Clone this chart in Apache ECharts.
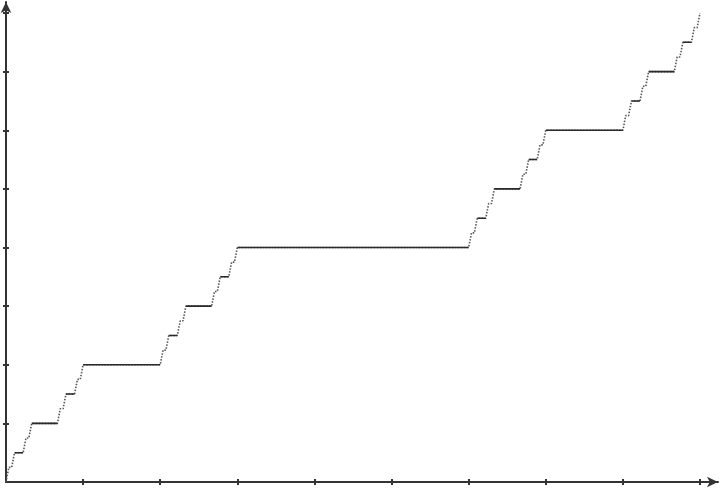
<!DOCTYPE html>
<html>
<head>
<meta charset="utf-8">
<script src="https://cdn.jsdelivr.net/npm/echarts@6/dist/echarts.min.js"></script>
<style>html,body{margin:0;padding:0;background:#fff;}#c{width:720px;height:488px;}</style>
</head>
<body>
<div id="c"></div>
<script>
// Staircase plateaus (x in 1/243 units, y in 1/32 units)
const plateauStart = [1,3,7,9,19,21,25,27,55,57,61,63,73,75,79,81,163,165,169,171,181,183,187,189,217,219,223,225,235,237,241];
const plateauEnd   = [2,6,8,18,20,24,26,54,56,60,62,72,74,78,80,162,164,168,170,180,182,186,188,216,218,222,224,234,236,240,242];
const plateauLevel = [1,2,3,4,5,6,7,8,9,10,11,12,13,14,15,16,17,18,19,20,21,22,23,24,25,26,27,28,29,30,31];
const curveStart = [0, 0];
const curveEnd = [1, 1];
const X_UNIT = 243, Y_UNIT = 32;
// tick positions
const xTicks = [1/9, 2/9, 3/9, 4/9, 5/9, 6/9, 7/9, 8/9, 9/9];
const yTicks = [1/8, 2/8, 3/8, 4/8, 5/8, 6/8, 7/8, 8/8];

// full curve (fine, dotted-looking) and the long plateaus (solid)
const pts = [curveStart];
const solid = [];
for (let i = 0; i < plateauStart.length; i++) {
  const p0 = [plateauStart[i] / X_UNIT, plateauLevel[i] / Y_UNIT];
  const p1 = [plateauEnd[i] / X_UNIT, plateauLevel[i] / Y_UNIT];
  pts.push(p0, p1);
  if (plateauLevel[i] % 2 === 0) { solid.push(p0, p1, '-'); }
}
pts.push(curveEnd);

const AX = '#333';
const XMAX = 712 / 694, YMAX = 480 / 469;
function xA(inside, line) {
  return {
    type: 'value', min: 0, max: XMAX, position: 'bottom',
    axisLine: { show: line, onZero: false, symbol: ['none', 'arrow'], symbolSize: [8, 11], lineStyle: { color: AX, width: 2 } },
    axisTick: { show: true, inside: inside, length: 3, customValues: xTicks, lineStyle: { color: AX, width: 2 } },
    axisLabel: { show: false }, splitLine: { show: false }
  };
}
function yA(inside, line) {
  return {
    type: 'value', min: 0, max: YMAX, position: 'left',
    axisLine: { show: line, onZero: false, symbol: ['none', 'arrow'], symbolSize: [8, 11], lineStyle: { color: AX, width: 2 } },
    axisTick: { show: true, inside: inside, length: 3, customValues: yTicks, lineStyle: { color: AX, width: 2 } },
    axisLabel: { show: false }, splitLine: { show: false }
  };
}
const chart = echarts.init(document.getElementById('c'), null, { renderer: 'canvas' });
chart.setOption({
  backgroundColor: '#fff',
  animation: false,
  grid: { left: 6, right: 2, top: 2, bottom: 6, containLabel: false },
  xAxis: [xA(false, true), xA(true, false)],
  yAxis: [yA(false, true), yA(true, false)],
  series: [{
    type: 'line', data: pts, xAxisIndex: 0, yAxisIndex: 0,
    showSymbol: false, symbol: 'none',
    lineStyle: { color: '#555', width: 1.6, type: [1.5, 1.5] }
  }, {
    type: 'line', data: solid, xAxisIndex: 0, yAxisIndex: 0,
    showSymbol: false, symbol: 'none', connectNulls: false,
    lineStyle: { color: '#2a2a2a', width: 1.6 }
  }]
});
</script>
</body>
</html>
